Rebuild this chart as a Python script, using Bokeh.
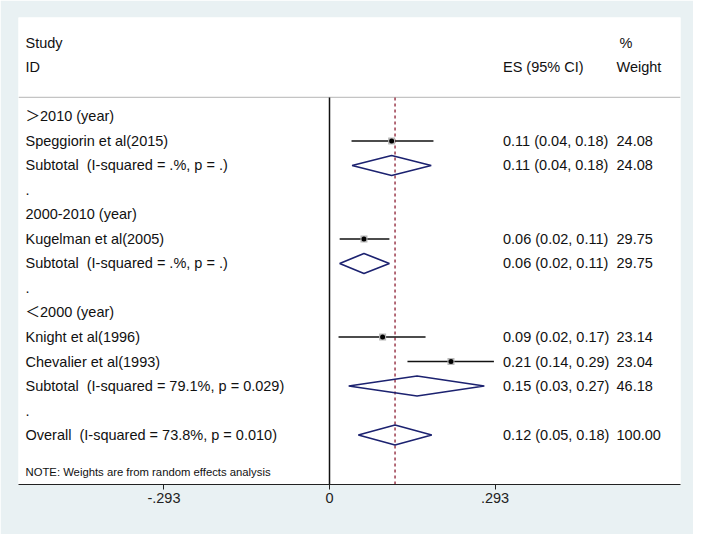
from bokeh.plotting import figure
from bokeh.models import Range1d, FixedTicker
from bokeh.core.properties import value
from bokeh.embed import file_html
from bokeh.resources import INLINE

# ---------------- data ----------------
SP2 = " \u00a0"
row_labels = ["＞2010 (year)", "Speggiorin et al(2015)", "Subtotal" + SP2 + "(I-squared = .%, p = .)", ".",
              "2000-2010 (year)", "Kugelman et al(2005)", "Subtotal" + SP2 + "(I-squared = .%, p = .)", ".",
              "＜2000 (year)", "Knight et al(1996)", "Chevalier et al(1993)",
              "Subtotal" + SP2 + "(I-squared = 79.1%, p = 0.029)", ".",
              "Overall" + SP2 + "(I-squared = 73.8%, p = 0.010)"]

study_rows = [1, 5, 9, 10]
study_es = [0.110, 0.061, 0.094, 0.215]
study_lo = [0.039, 0.018, 0.016, 0.138]
study_hi = [0.184, 0.106, 0.170, 0.291]

pooled_rows = [2, 6, 11, 13]
pooled_es = [0.110, 0.061, 0.155, 0.116]
pooled_lo = [0.040, 0.018, 0.034, 0.051]
pooled_hi = [0.180, 0.106, 0.274, 0.181]

es_rows = [1, 2, 5, 6, 9, 10, 11, 13]
es_text = ["0.11 (0.04, 0.18)", "0.11 (0.04, 0.18)", "0.06 (0.02, 0.11)", "0.06 (0.02, 0.11)",
           "0.09 (0.02, 0.17)", "0.21 (0.14, 0.29)", "0.15 (0.03, 0.27)", "0.12 (0.05, 0.18)"]
weight_text = ["24.08", "24.08", "29.75", "29.75", "23.14", "23.04", "46.18", "100.00"]

overall_es = 0.116
tick_values = [-0.293, 0, 0.293]
tick_labels = ["-.293", "0", ".293"]

# ---------------- layout helpers ----------------
PX0 = 337.0      # pixel of x=0 in reference
PXU = 565.0      # pixels per unit
def xpx(px):
    return (px - PX0) / PXU

X_MIN, X_MAX = xpx(26), xpx(688)
Y_TOP, Y_BOT = -4.04, 15.02
HEAD_Y = -0.776

FONT = "Liberation Sans"
LFONT = "Liberation Sans, Noto Sans CJK SC"
TXT = "#111111"
FS = "14.5px"

p = figure(frame_width=662, frame_height=467,
           min_border_left=18, min_border_right=13, min_border_top=17, min_border_bottom=50,
           x_range=Range1d(X_MIN, X_MAX), y_range=Range1d(Y_BOT, Y_TOP),
           output_backend="svg", toolbar_location=None,
           background_fill_color="white", border_fill_color="#e9f1f3")
p.outline_line_color = None
p.xgrid.visible = False
p.ygrid.visible = False
p.yaxis.visible = False

ax = p.xaxis[0]
ax.ticker = FixedTicker(ticks=tick_values)
ax.major_label_overrides = {v: l for v, l in zip(tick_values, tick_labels)}
ax.major_tick_in = 0
ax.major_tick_out = 5
ax.minor_tick_line_color = None
ax.axis_line_color = "#222222"
ax.axis_line_width = 1.2
ax.major_tick_line_color = "#222222"
ax.major_label_text_font = FONT
ax.major_label_text_font_size = FS
ax.major_label_text_color = "#222222"
ax.major_label_standoff = 3

# header separator
p.segment(x0=[X_MIN], y0=[HEAD_Y], x1=[X_MAX], y1=[HEAD_Y], line_color="#c4c4c4", line_width=1.2)
# null line
p.segment(x0=[0], y0=[HEAD_Y], x1=[0], y1=[Y_BOT], line_color="#111111", line_width=1.5)
# overall dashed
p.segment(x0=[overall_es], y0=[HEAD_Y], x1=[overall_es], y1=[Y_BOT],
          line_color="#9b3a4c", line_width=1.5, line_dash="3 3")

# study CIs
p.segment(x0=study_lo, y0=study_rows, x1=study_hi, y1=study_rows, line_color="#111111", line_width=1.5)
p.scatter(x=study_es, y=study_rows, marker="square", size=7, fill_color="#b8b8b8", line_color=None)
p.scatter(x=study_es, y=study_rows, marker="circle", size=5, fill_color="#000000", line_color=None)

# pooled diamonds
H = 0.41
xs = [[lo, es, hi, es] for lo, es, hi in zip(pooled_lo, pooled_es, pooled_hi)]
ys = [[r, r - H, r, r + H] for r in pooled_rows]
p.patches(xs=xs, ys=ys, fill_color=None, line_color="#1c2270", line_width=1.6)

# left labels
lx = xpx(33)
p.text(x=[lx] * len(row_labels), y=list(range(len(row_labels))), text=row_labels,
       text_font=value(LFONT), text_font_size=FS, text_color=TXT,
       text_baseline="middle", text_align="left")
p.text(x=[lx, lx], y=[-3, -2], text=["Study", "ID"],
       text_font=value(FONT), text_font_size=FS, text_color=TXT,
       text_baseline="middle", text_align="left")

# ES column
ex = xpx(510.5)
p.text(x=[ex] * len(es_rows), y=es_rows, text=es_text,
       text_font=value(FONT), text_font_size=FS, text_color=TXT,
       text_baseline="middle", text_align="left")
p.text(x=[ex], y=[-2], text=["ES (95% CI)"],
       text_font=value(FONT), text_font_size=FS, text_color=TXT,
       text_baseline="middle", text_align="left")

# weight column
wx = xpx(624)
p.text(x=[wx] * len(es_rows), y=es_rows, text=weight_text,
       text_font=value(FONT), text_font_size=FS, text_color=TXT,
       text_baseline="middle", text_align="left")
p.text(x=[xpx(627), wx], y=[-3, -2], text=["%", "Weight"],
       text_font=value(FONT), text_font_size=FS, text_color=TXT,
       text_baseline="middle", text_align="left")

# note
p.text(x=[lx], y=[14.5], text=["NOTE: Weights are from random effects analysis"],
       text_font=value(FONT), text_font_size="11.3px", text_color=TXT,
       text_baseline="middle", text_align="left")

open("out.html", "w").write(file_html(p, INLINE))
